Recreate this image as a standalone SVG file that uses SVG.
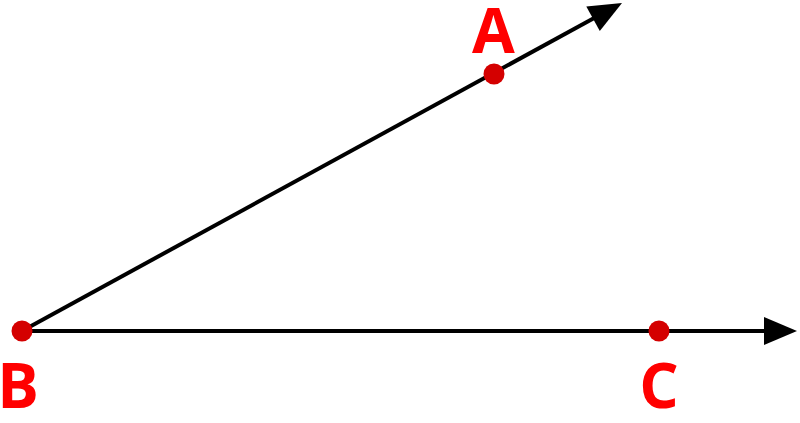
<svg xmlns="http://www.w3.org/2000/svg" width="800" height="423" viewBox="0 0 800 423">
<style>
.ray{stroke:#000;stroke-width:4;fill:none}
.head{fill:#000}
.pt{fill:#d40000}
.lbl{fill:#ff0000;font-family:"Open Sans","Noto Sans",sans-serif;font-weight:bold;font-size:62px;text-anchor:middle}
</style>
<g id="connectors">
<line class="ray" x1="22" y1="331" x2="596" y2="17"/>
<polygon class="head" points="622,3 599.8,31.1 586.3,6.5"/>
<line class="ray" x1="22" y1="331" x2="768" y2="331"/>
<polygon class="head" points="797,331 764,317 764,345"/>
</g>
<g id="A"><circle class="pt" cx="494" cy="74" r="10.5"/><text class="lbl" x="493.5" y="53">A</text></g>
<g id="B"><circle class="pt" cx="22" cy="331" r="10.5"/><text class="lbl" x="18" y="408">B</text></g>
<g id="C"><circle class="pt" cx="659" cy="331" r="10.5"/><text class="lbl" x="659" y="408">C</text></g>
</svg>
